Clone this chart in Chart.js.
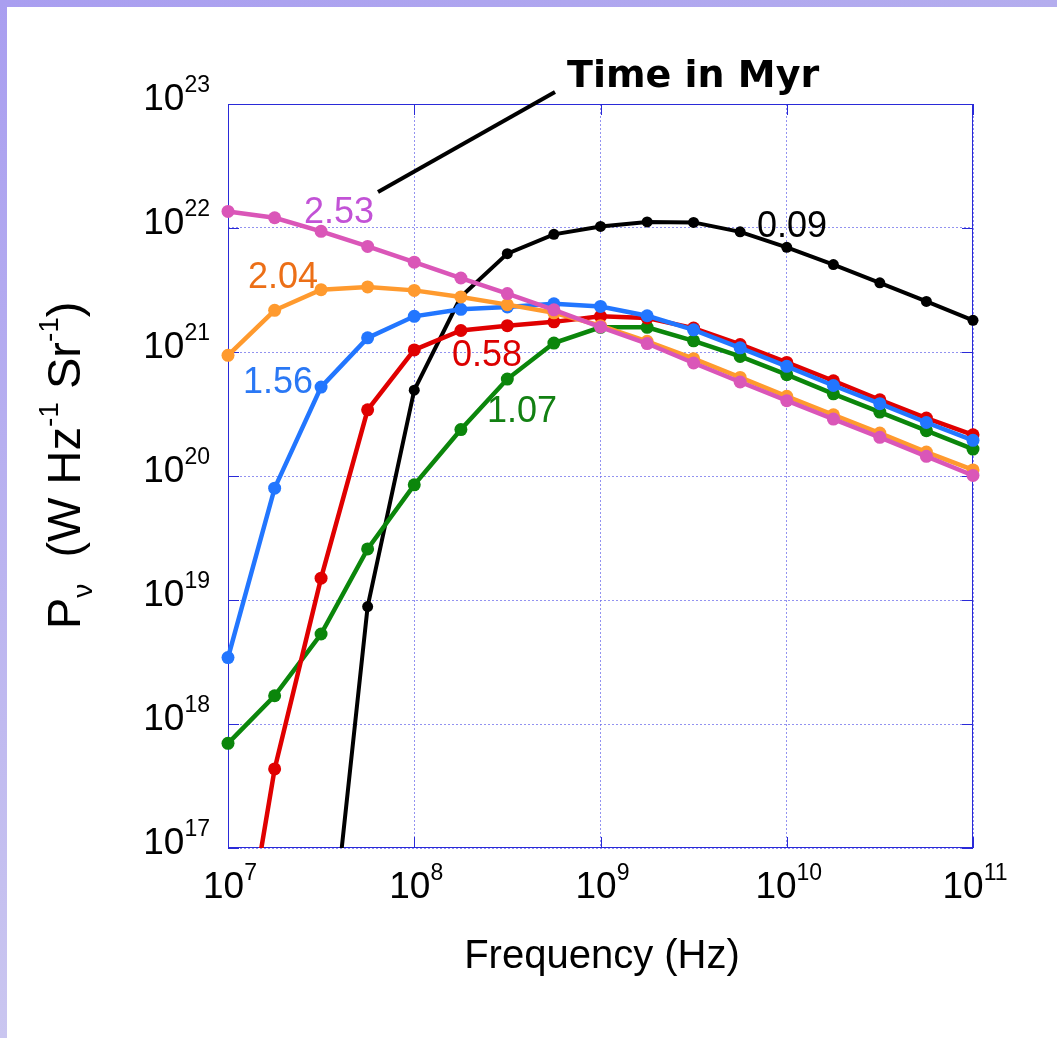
<!DOCTYPE html>
<html>
<head>
<meta charset="utf-8">
<script src="https://cdn.jsdelivr.net/npm/chart.js@4.4.0/dist/chart.umd.min.js"></script>
<style>
  html, body { margin: 0; padding: 0; background: #fff; }
  #wrap { width: 1057px; height: 1038px; }
</style>
</head>
<body>
<div id="wrap"><canvas id="sed" width="1057" height="1038"></canvas></div>
<script>
// frequencies (Hz), quarter-decade steps
const freqs = [1e7, 1.78e7, 3.16e7, 5.62e7, 1e8, 1.78e8, 3.16e8, 5.62e8, 1e9,
               1.78e9, 3.16e9, 5.62e9, 1e10, 1.78e10, 3.16e10, 5.62e10, 1e11];

// P_nu (W Hz^-1 Sr^-1) for each age in Myr
const p009 = [null, null, 2.8e15, 8.85e18, 4.92e20, 2.79e21, 6.21e21, 8.89e21, 1.03e22,
              1.12e22, 1.11e22, 9.31e21, 6.98e21, 5.07e21, 3.61e21, 2.56e21, 1.80e21];
const p058 = [2.5e15, 4.34e17, 1.50e19, 3.42e20, 1.04e21, 1.49e21, 1.63e21, 1.75e21, 1.94e21,
              1.88e21, 1.56e21, 1.15e21, 8.24e20, 5.86e20, 4.12e20, 2.93e20, 2.15e20];
const p107 = [6.98e17, 1.69e18, 5.32e18, 2.58e19, 8.49e19, 2.37e20, 6.05e20, 1.18e21, 1.58e21,
              1.58e21, 1.23e21, 9.20e20, 6.56e20, 4.60e20, 3.28e20, 2.32e20, 1.65e20];
const p156 = [3.43e18, 7.98e19, 5.21e20, 1.30e21, 1.94e21, 2.21e21, 2.31e21, 2.45e21, 2.33e21,
              1.96e21, 1.51e21, 1.08e21, 7.66e20, 5.37e20, 3.83e20, 2.70e20, 1.94e20];
const p204 = [9.4e20, 2.17e21, 3.18e21, 3.35e21, 3.14e21, 2.78e21, 2.41e21, 2.07e21, 1.63e21,
              1.22e21, 8.83e20, 6.24e20, 4.39e20, 3.12e20, 2.22e20, 1.56e20, 1.12e20];
const p253 = [1.36e22, 1.21e22, 9.4e21, 7.1e21, 5.3e21, 3.95e21, 2.96e21, 2.19e21, 1.59e21,
              1.17e21, 8.15e20, 5.73e20, 4.05e20, 2.88e20, 2.05e20, 1.44e20, 1.01e20];

const xTicks = [1e7, 1e8, 1e9, 1e10, 1e11];
const yTicks = [1e17, 1e18, 1e19, 1e20, 1e21, 1e22, 1e23];

const pts = arr => arr.map((v, i) => ({ x: freqs[i], y: v }));

function series(label, values, color, order, thin) {
  return {
    label: label,
    data: pts(values),
    borderColor: color,
    backgroundColor: color,
    borderWidth: thin ? 4 : 4.5,
    pointRadius: thin ? 5.5 : 6.5,
    pointHoverRadius: thin ? 5.5 : 6.5,
    pointBorderWidth: 0,
    tension: 0,
    spanGaps: false,
    clip: { left: 10, right: 10, top: 10, bottom: 0 },
    order: order
  };
}

// series labels: [text, colour, log10(freq), log10(P)] (centre / baseline)
const seriesLabels = [
  ['2.53', '#c252d6', 7.596, 22.044],
  ['2.04', '#ec6f17', 7.295, 21.519],
  ['1.56', '#2a78f5', 7.268, 20.671],
  ['0.58', '#dc0000', 8.391, 20.889],
  ['1.07', '#128012', 8.579, 20.437],
  ['0.09', '#000000', 10.028, 21.931]
];

const FONT = '"Liberation Sans", Arial, Helvetica, sans-serif';

function drawPow(ctx, exp, x, y, align) {
  ctx.font = '37px ' + FONT;
  const wb = ctx.measureText('10').width;
  ctx.font = '23px ' + FONT;
  const we = ctx.measureText(exp).width;
  const total = wb + we;
  let left = align === 'right' ? x - total : x - total / 2;
  ctx.textAlign = 'left';
  ctx.textBaseline = 'alphabetic';
  ctx.font = '37px ' + FONT;
  ctx.fillText('10', left, y);
  ctx.font = '23px ' + FONT;
  ctx.fillText(exp, left + wb, y - 18);
}

const decor = {
  id: 'decor',
  beforeDraw(chart) {
    const { ctx, width, height } = chart;
    ctx.save();
    ctx.fillStyle = '#ffffff';
    ctx.fillRect(0, 0, width, height);
    let g = ctx.createLinearGradient(0, 0, width, 0);
    g.addColorStop(0, '#a99ef0');
    g.addColorStop(1, '#b4adee');
    ctx.fillStyle = g;
    ctx.fillRect(0, 0, width, 7);
    g = ctx.createLinearGradient(0, 0, 0, height);
    g.addColorStop(0, '#a99ef0');
    g.addColorStop(1, '#cac6f0');
    ctx.fillStyle = g;
    ctx.fillRect(0, 0, 7, height);
    ctx.restore();
  },
  beforeDatasetsDraw(chart) {
    const { ctx, chartArea: a, scales } = chart;
    ctx.save();
    ctx.strokeStyle = '#2a2ad8';
    ctx.lineWidth = 1;
    ctx.strokeRect(a.left + 0.5, a.top + 0.5, a.right - a.left - 1, a.bottom - a.top - 1);
    // inward ticks at decades
    ctx.beginPath();
    yTicks.forEach(v => {
      const y = Math.round(scales.y.getPixelForValue(v)) + 0.5;
      ctx.moveTo(a.left, y); ctx.lineTo(a.left + 11, y);
      ctx.moveTo(a.right, y); ctx.lineTo(a.right - 11, y);
    });
    xTicks.forEach(v => {
      const x = Math.round(scales.x.getPixelForValue(v)) + 0.5;
      ctx.moveTo(x, a.bottom); ctx.lineTo(x, a.bottom - 11);
      ctx.moveTo(x, a.top); ctx.lineTo(x, a.top + 11);
    });
    ctx.stroke();
    ctx.restore();
  },
  afterDraw(chart) {
    const { ctx, chartArea: a, scales } = chart;
    ctx.save();
    ctx.fillStyle = '#000';
    // tick labels
    yTicks.forEach(v => {
      const y = scales.y.getPixelForValue(v);
      drawPow(ctx, String(Math.round(Math.log10(v))), 210, y + 6, 'right');
    });
    xTicks.forEach(v => {
      const x = scales.x.getPixelForValue(v);
      drawPow(ctx, String(Math.round(Math.log10(v))), x + 2, a.bottom + 50, 'center');
    });

    // x title
    ctx.font = '40px ' + FONT;
    ctx.textAlign = 'center';
    ctx.textBaseline = 'alphabetic';
    ctx.fillText('Frequency (Hz)', 602, 968);

    // y title, rotated
    ctx.save();
    ctx.translate(80, 629);
    ctx.rotate(-Math.PI / 2);
    ctx.textAlign = 'left';
    const big = '47px ' + FONT, small = '28px ' + FONT;
    const parts = [
      ['P', big, 0], ['\u03bd', small, 12], ['  (W Hz', big, 0], ['-1', small, -22],
      [' Sr', big, 0], ['-1', small, -22], [')', big, 0]
    ];
    let px = 0;
    parts.forEach(([t, f, dy]) => {
      ctx.font = f;
      ctx.fillText(t, px, dy);
      px += ctx.measureText(t).width;
    });
    ctx.restore();

    // series labels
    ctx.font = '36px ' + FONT;
    ctx.textAlign = 'center';
    seriesLabels.forEach(([t, c, lx, ly]) => {
      ctx.fillStyle = c;
      ctx.fillText(t, scales.x.getPixelForValue(Math.pow(10, lx)), scales.y.getPixelForValue(Math.pow(10, ly)));
    });

    // "Time in Myr" callout
    ctx.strokeStyle = '#000';
    ctx.lineWidth = 4;
    ctx.lineCap = 'butt';
    ctx.beginPath();
    ctx.moveTo(378, 192);
    ctx.lineTo(555, 92);
    ctx.stroke();
    ctx.fillStyle = '#000';
    ctx.textAlign = 'left';
    ctx.font = 'bold 38px "DejaVu Sans", sans-serif';
    ctx.fillText('Time in Myr', 567, 87);
    ctx.restore();
  }
};

new Chart(document.getElementById('sed').getContext('2d'), {
  type: 'line',
  data: {
    datasets: [
      series('0.09', p009, '#000000', 6, true),
      series('1.07', p107, '#0b860b', 5),
      series('0.58', p058, '#e00000', 4),
      series('1.56', p156, '#2276ff', 3),
      series('2.04', p204, '#ff9a2e', 2),
      series('2.53', p253, '#da56b8', 1)
    ]
  },
  options: {
    responsive: false,
    animation: false,
    devicePixelRatio: 1,
    layout: { padding: { left: 228, top: 104, right: 84, bottom: 190 } },
    plugins: { legend: { display: false }, tooltip: { enabled: false } },
    scales: {
      x: {
        type: 'logarithmic',
        min: 1e7, max: 1e11,
        afterBuildTicks: s => { s.ticks = xTicks.map(v => ({ value: v })); },
        ticks: { display: false },
        grid: { color: 'rgba(110,110,235,0.75)', lineWidth: 1, drawTicks: false },
        border: { display: false, dash: [2, 2] }
      },
      y: {
        type: 'logarithmic',
        min: 1e17, max: 1e23,
        afterBuildTicks: s => { s.ticks = yTicks.map(v => ({ value: v })); },
        ticks: { display: false },
        grid: { color: 'rgba(110,110,235,0.75)', lineWidth: 1, drawTicks: false },
        border: { display: false, dash: [2, 2] }
      }
    }
  },
  plugins: [decor]
});
</script>
</body>
</html>
